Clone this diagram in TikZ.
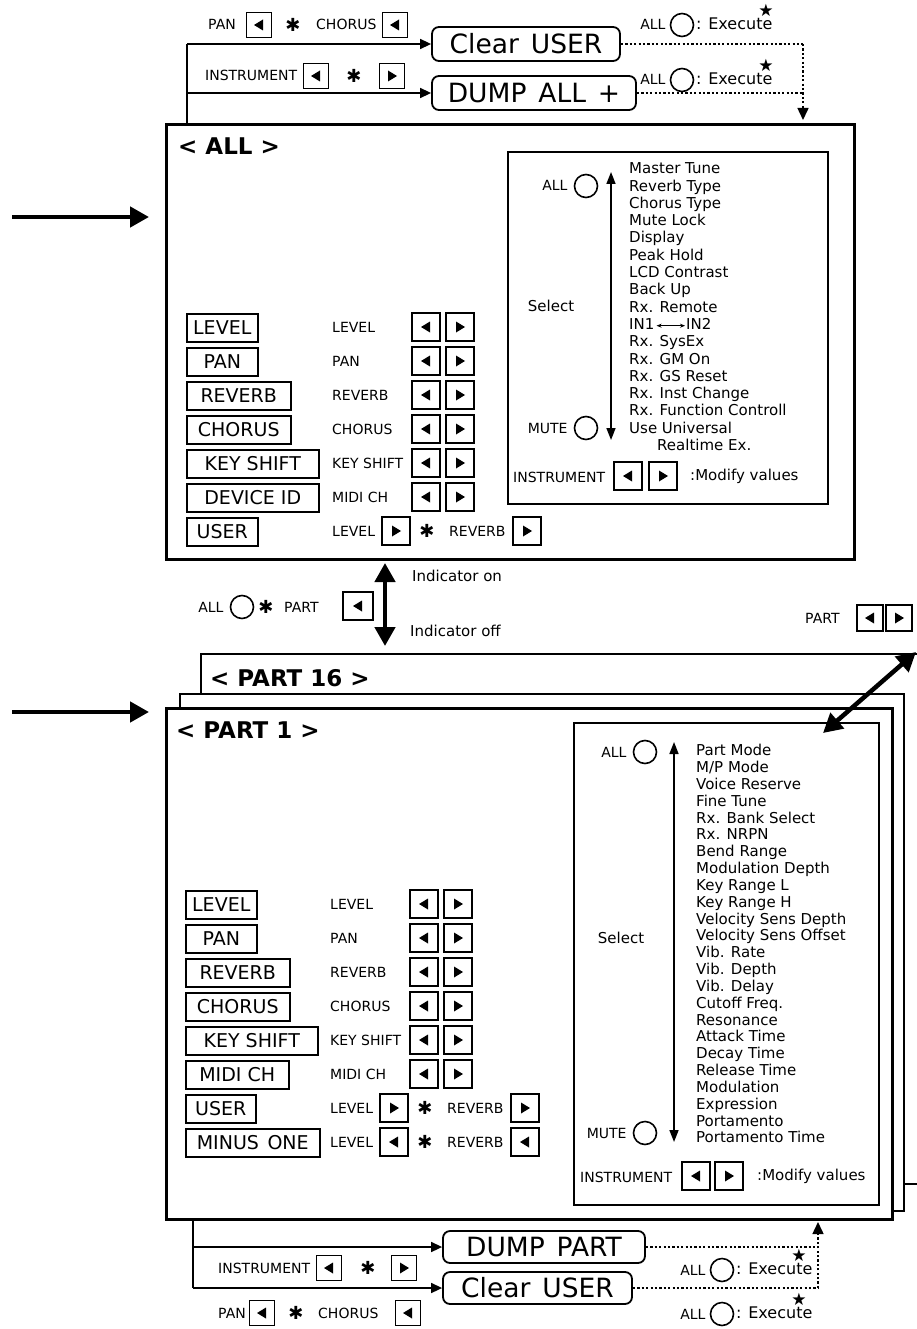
\documentclass[tikz,border=0pt]{standalone}
\usepackage{fontspec}
\setmainfont{DejaVu Sans}
\usetikzlibrary{arrows.meta,calc}
\newcommand{\xgap}{\hspace{0.45em}}
\tikzset{
  lbl/.style={inner sep=0pt, text height=10pt, text depth=0pt, font=\fontsize{14}{16}\selectfont},
  itm/.style={inner sep=0pt, anchor=west, text height=11pt, text depth=3.5pt, font=\fontsize{15}{17}\selectfont},
  ttl/.style={inner sep=0pt, anchor=west, font=\bfseries\fontsize{23}{26}\selectfont},
  bigbtn/.style={draw, line width=1.8pt, rounded corners=7pt, minimum height=34pt, inner sep=0pt, font=\fontsize{26.5}{30}\selectfont},
  keyb/.style={draw, line width=1.5pt, minimum height=28pt, inner sep=0pt, anchor=north west, font=\fontsize{19}{22}\selectfont},
  btn/.style={draw, line width=1.6pt, minimum width=28pt, minimum height=28pt, inner sep=0pt},
  bL/.style={btn, path picture={\fill ([shift={(4,-5.5)}]path picture bounding box.center) -- ++(0,11) -- ++(-9,-5.5) -- cycle;}},
  bR/.style={btn, path picture={\fill ([shift={(-4,-5.5)}]path picture bounding box.center) -- ++(0,11) -- ++(9,-5.5) -- cycle;}},
  smallbtn/.style={minimum width=25pt, minimum height=25pt},
  knob/.style={draw, circle, line width=1.6pt, minimum size=23pt, inner sep=0pt},
  panel/.style={draw, fill=white, anchor=north west, inner sep=0pt, line width=#1},
  panel/.default=3pt,
  inbox/.style={draw, line width=1.6pt, anchor=north west, inner sep=0pt},
  astg/.style={inner sep=0pt, font=\fontsize{18}{18}\selectfont},
  stargl/.style={inner sep=0pt, font=\fontsize{17}{17}\selectfont},
  wire/.style={line width=1.5pt},
  feed/.style={line width=1.5pt, -{Triangle[width=10pt,length=11pt]}},
  dots/.style={line width=1.5pt, dash pattern=on 2.2pt off 2.2pt},
  fat/.style={line width=4.5pt, -{Triangle[width=20pt,length=19pt]}},
  fatboth/.style={line width=4.5pt, {Triangle[width=20pt,length=19pt]}-{Triangle[width=20pt,length=19pt]}},
  selarr/.style={line width=1.6pt, {Triangle[width=9pt,length=12pt]}-{Triangle[width=9pt,length=12pt]}},
  inarr/.style={line width=0.9pt, {Stealth[length=5pt,width=4pt]}-{Stealth[length=5pt,width=4pt]}},
  exe/.style={itm, font=\fontsize{16}{18}\selectfont},
}
\begin{document}
\begin{tikzpicture}[x=1pt,y=-1pt]
\useasboundingbox (0,0) rectangle (917,1329);
\fill[white] (0,0) rectangle (917,1329);

% ---------------- TOP ----------------
\node[lbl, anchor=west] (tpan) at (208,25) {PAN};
\node[bL, smallbtn] (tpanL) at (259,25) {};
\node[astg] (tast1) at (293,25) {✱};
\node[lbl, anchor=west] (tcho) at (316,25) {CHORUS};
\node[bL, smallbtn] (tchoL) at (395,25) {};
\node[lbl, anchor=west] (tins) at (205,76) {INSTRUMENT};
\node[bL, smallbtn] (tinsL) at (316,76) {};
\node[astg] (tast2) at (354,76) {✱};
\node[bR, smallbtn] (tinsR) at (392,76) {};
\node[bigbtn, minimum width=188] (clr1) at (526,44) {Clear\xgap USER};
\node[bigbtn, minimum width=204] (dump1) at (534,93) {DUMP\xgap ALL\xgap +};

\node[knob] (te1k) at (682,25) {};
\node[lbl, anchor=east] (te1a) at ([xshift=-4pt]te1k.west) {ALL};
\node[exe] (te1x) at (696,26) {: Execute};
\node[stargl] (te1s) at (766,10) {★};
\node[knob] (te2k) at (682,80) {};
\node[lbl, anchor=east] (te2a) at ([xshift=-4pt]te2k.west) {ALL};
\node[exe] (te2x) at (696,81) {: Execute};
\node[stargl] (te2s) at (766,65) {★};

\coordinate (tvB) at (187,123);
\coordinate (tvT) at (187,44);
\draw[wire] (tvB) -- (tvT);
\draw[feed] (tvT) -- (clr1.west);
\draw[feed] (tvB |- dump1.west) -- (dump1.west);
\coordinate (tdc) at (803,44);
\coordinate (tdt) at (803,120);
\draw[dots] (clr1.east) -- (tdc);
\draw[dots] (dump1.east) -- (dump1.east -| tdc);
\draw[dots, -{Triangle[width=11pt,length=12pt]}] (tdc) -- (tdt);

% ---------------- ALL PANEL ----------------
\node[panel, minimum width=688, minimum height=435] (allp) at (165,123) {};
\node[ttl] (allt) at (178,146) {< ALL >};
\node[inbox, minimum width=320, minimum height=352] (allin) at (507,151) {};
\node[knob] (aALLk) at (586,186) {};
\node[lbl, anchor=east] (aALL) at ([xshift=-6pt]aALLk.west) {ALL};
\node[lbl, font=\fontsize{15}{17}\selectfont] (asel) at (551,307) {Select};
\node[knob] (aMUTEk) at (586,428) {};
\node[lbl, anchor=east] (aMUTE) at ([xshift=-6pt]aMUTEk.west) {MUTE};
\coordinate (aar1) at (611,172);
\coordinate (aar2) at (611,440);
\draw[selarr] (aar1) -- (aar2);
\foreach \t [count=\i from 0] in {Master Tune, Reverb Type, Chorus Type, Mute Lock, Display, Peak Hold, LCD Contrast, Back Up, Rx. Remote, IN1, Rx. SysEx, Rx. GM On, Rx. GS Reset, Rx. Inst Change, Rx. Function Controll, Use Universal}
  \node[itm] (la\i) at (629,{170+17.3*\i}) {\t};
\node[itm] (la16) at (657,{170+17.3*16}) {Realtime Ex.};
\node[itm] (in2) at (686,{170+17.3*9}) {IN2};
\draw[inarr] ([xshift=2pt]la9.east) -- ([xshift=-1pt]in2.west);
\node[lbl, anchor=west] (ains) at (513,477) {INSTRUMENT};
\node[bL] (ainsL) at (628,476) {};
\node[bR] (ainsR) at (663,476) {};
\node[itm] (amod) at (690,477) {:Modify values};

\foreach \lab/\w/\sm [count=\i from 0] in {LEVEL/71/LEVEL, PAN/71/PAN, REVERB/104/REVERB, CHORUS/104/CHORUS, KEY SHIFT/132/KEY SHIFT, DEVICE ID/132/MIDI CH}{
  \node[keyb, minimum width=\w] (ak\i) at (186,{313+34*\i}) {\lab};
  \node[lbl, anchor=west] (as\i) at (332,{327+34*\i}) {\sm};
  \node[bL] (aL\i) at (426,{327+34*\i}) {};
  \node[bR] (aR\i) at (460,{327+34*\i}) {};
}
\node[keyb, minimum width=71] (ak6) at (186,517) {USER};
\node[lbl, anchor=west] (as6) at (332,531) {LEVEL};
\node[bR] (aU1) at (396,531) {};
\node[astg] (aast) at (427,531) {✱};
\node[lbl, anchor=west] (aurev) at (449,531) {REVERB};
\node[bR] (aU2) at (527,531) {};

\coordinate (inA1) at (12,217);
\coordinate (inA2) at (149,217);
\draw[fat] (inA1) -- (inA2);

% ---------------- MIDDLE ----------------
\coordinate (ud1) at (385,563);
\coordinate (ud2) at (385,646);
\draw[fatboth] (ud1) -- (ud2);
\node[itm] (ion) at (412,578) {Indicator on};
\node[itm] (ioff) at (410,633) {Indicator off};
\node[knob] (mknob) at (242,607) {};
\node[lbl, anchor=east] (mall) at ([xshift=-6pt]mknob.west) {ALL};
\node[astg] (mast) at (266,607) {✱};
\node[lbl, anchor=west] (mpart) at (284,607) {PART};
\node[bL, minimum width=30] (mbL) at (358,606) {};

% ---------------- PART PANELS ----------------
\node[panel=1.5pt, minimum width=725, minimum height=530] (p16) at (200,653) {};
\node[ttl] (p16t) at (210,678) {< PART 16 >};
\node[panel=1.5pt, minimum width=724, minimum height=517] (p2) at (179,693) {};
\node[panel, minimum width=726, minimum height=511] (p1) at (165,707) {};
\node[ttl] (p1t) at (176,730) {< PART 1 >};
\node[inbox, minimum width=305, minimum height=482] (p1in) at (573,722) {};

\node[knob] (pALLk) at (645,752) {};
\node[lbl, anchor=east] (pALL) at ([xshift=-6pt]pALLk.west) {ALL};
\coordinate (par1) at (674,742);
\coordinate (par2) at (674,1142);
\draw[selarr] (par1) -- (par2);
\foreach \t [count=\i from 0] in {Part Mode, M/P Mode, Voice Reserve, Fine Tune, Rx. Bank Select, Rx. NRPN, Bend Range, Modulation Depth, Key Range L, Key Range H, Velocity Sens Depth, Velocity Sens Offset, Vib. Rate, Vib. Depth, Vib. Delay, Cutoff Freq., Resonance, Attack Time, Decay Time, Release Time, Modulation, Expression, Portamento, Portamento Time}
  \node[itm] (lp\i) at (696,{752+16.83*\i}) {\t};
\node[lbl, font=\fontsize{15}{17}\selectfont] (psel) at (621,938) {Select};
\node[knob] (pMUTEk) at (645,1133) {};
\node[lbl, anchor=east] (pMUTE) at ([xshift=-6pt]pMUTEk.west) {MUTE};
\node[lbl, anchor=west] (pins) at (580,1177) {INSTRUMENT};
\node[bL] (pinsL) at (696,1176) {};
\node[bR] (pinsR) at (729,1176) {};
\node[itm] (pmod) at (757,1177) {:Modify values};

\foreach \lab/\w/\sm [count=\i from 0] in {LEVEL/71/LEVEL, PAN/71/PAN, REVERB/104/REVERB, CHORUS/104/CHORUS, KEY SHIFT/132/KEY SHIFT, MIDI CH/103/MIDI CH}{
  \node[keyb, minimum width=\w] (pk\i) at (185,{890+34*\i}) {\lab};
  \node[lbl, anchor=west] (ps\i) at (330,{904+34*\i}) {\sm};
  \node[bL] (pL\i) at (424,{904+34*\i}) {};
  \node[bR] (pR\i) at (458,{904+34*\i}) {};
}
\node[keyb, minimum width=70] (pk6) at (185,1094) {USER};
\node[lbl, anchor=west] (ps6) at (330,1108) {LEVEL};
\node[bR] (pU1) at (394,1108) {};
\node[astg] (past1) at (425,1108) {✱};
\node[lbl, anchor=west] (purev) at (447,1108) {REVERB};
\node[bR] (pU2) at (525,1108) {};
\node[keyb, minimum width=134] (pk7) at (185,1128) {MINUS\xgap ONE};
\node[lbl, anchor=west] (ps7) at (330,1142) {LEVEL};
\node[bL] (pM1) at (394,1142) {};
\node[astg] (past2) at (425,1142) {✱};
\node[lbl, anchor=west] (pmrev) at (447,1142) {REVERB};
\node[bL] (pM2) at (525,1142) {};

\coordinate (inP1) at (12,712);
\coordinate (inP2) at (149,712);
\draw[fat] (inP1) -- (inP2);

% top-right PART buttons and diagonal arrow
\node[lbl, anchor=west] (tpart) at (805,618) {PART};
\node[bL, minimum width=26, minimum height=26] (tpL) at (870,618) {};
\node[bR, minimum width=26, minimum height=26] (tpR) at (899,618) {};
\coordinate (dg1) at (916,652);
\coordinate (dg2) at (823,733);
\draw[fatboth] (dg1) -- (dg2);

% ---------------- BOTTOM ----------------
\node[bigbtn, minimum width=202, minimum height=32] (dump2) at (544,1247) {DUMP\xgap PART};
\node[bigbtn, minimum width=189, minimum height=32] (clr2) at (537.5,1288) {Clear\xgap USER};
\coordinate (bvT) at (193,1218);
\coordinate (bvB) at (193,1288);
\draw[wire] (bvT) -- (bvB);
\draw[feed] (bvB) -- (clr2.west);
\draw[feed] (bvT |- dump2.west) -- (dump2.west);

\node[lbl, anchor=west] (bins) at (218,1268) {INSTRUMENT};
\node[bL, smallbtn] (binsL) at (329,1268) {};
\node[astg] (bast1) at (368,1268) {✱};
\node[bR, smallbtn] (binsR) at (404,1268) {};
\node[lbl, anchor=west] (bpan) at (218,1313) {PAN};
\node[bL, smallbtn] (bpanL) at (262,1313) {};
\node[astg] (bast2) at (296,1313) {✱};
\node[lbl, anchor=west] (bcho) at (318,1313) {CHORUS};
\node[bL, smallbtn] (bchoL) at (408,1313) {};

\coordinate (bdc) at (818,1288);
\coordinate (bdt) at (818,1222);
\draw[dots] (dump2.east) -- (dump2.east -| bdc);
\draw[dots] (clr2.east) -- (bdc);
\draw[dots, -{Triangle[width=11pt,length=12pt]}] (bdc) -- (bdt);

\node[knob] (be1k) at (722,1270) {};
\node[lbl, anchor=east] (be1a) at ([xshift=-4pt]be1k.west) {ALL};
\node[exe] (be1x) at (736,1271) {: Execute};
\node[stargl] (be1s) at (799,1255) {★};
\node[knob] (be2k) at (722,1314) {};
\node[lbl, anchor=east] (be2a) at ([xshift=-4pt]be2k.west) {ALL};
\node[exe] (be2x) at (736,1315) {: Execute};
\node[stargl] (be2s) at (799,1299) {★};
\end{tikzpicture}
\end{document}
